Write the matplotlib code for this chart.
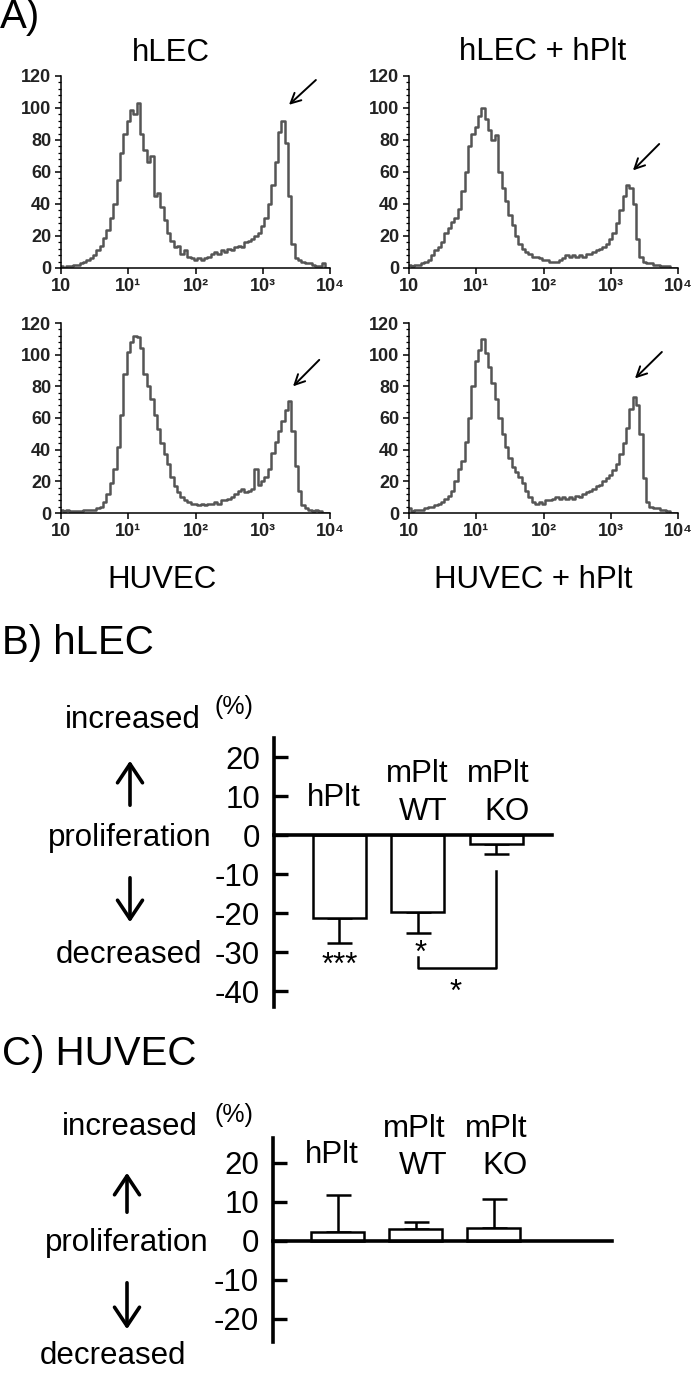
import numpy as np
import matplotlib
matplotlib.use('Agg')
import matplotlib.pyplot as plt
from matplotlib.ticker import MultipleLocator, FixedLocator, LogLocator, NullFormatter
from matplotlib.patches import FancyArrowPatch

plt.rcParams['font.family'] = ['Liberation Sans', 'DejaVu Sans']
plt.rcParams['axes.unicode_minus'] = False

W, H = 693, 1373

# --- A) histogramas: posição em décadas (10^d) e contagens ---
decades = [0.00, 0.05, 0.10, 0.15, 0.20, 0.25, 0.30, 0.35, 0.40, 0.45,
           0.50, 0.55, 0.60, 0.65, 0.70, 0.75, 0.80, 0.85, 0.90, 0.95,
           1.00, 1.05, 1.10, 1.15, 1.20, 1.25, 1.30, 1.35, 1.40, 1.45,
           1.50, 1.55, 1.60, 1.65, 1.70, 1.75, 1.80, 1.85, 1.90, 1.95,
           2.00, 2.05, 2.10, 2.15, 2.20, 2.25, 2.30, 2.35, 2.40, 2.45,
           2.50, 2.55, 2.60, 2.65, 2.70, 2.75, 2.80, 2.85, 2.90, 2.95,
           3.00, 3.05, 3.10, 3.15, 3.20, 3.25, 3.30, 3.35, 3.40, 3.45,
           3.50, 3.55, 3.60, 3.65, 3.70, 3.75, 3.80, 3.85, 3.90, 3.95, 4.00]

hlec_counts = [1, 0, 1, 1, 2, 2, 3, 4, 5, 6,
               8, 11, 14, 19, 24, 31, 40, 55, 72, 84,
               92, 99, 96, 103, 84, 74, 66, 70, 45, 47,
               38, 30, 22, 17, 13, 14, 9, 11, 7, 6,
               5, 6, 5, 6, 7, 9, 10, 9, 11, 10,
               12, 11, 13, 14, 13, 16, 17, 18, 20, 22,
               26, 31, 40, 52, 66, 85, 92, 78, 45, 15,
               6, 5, 4, 3, 3, 2, 1, 1, 3, 0, 0]

hlec_hplt_counts = [2, 1, 2, 2, 3, 4, 5, 8, 11, 13,
                    16, 22, 25, 29, 31, 37, 48, 60, 76, 84,
                    88, 95, 100, 93, 86, 80, 83, 60, 50, 42,
                    33, 27, 20, 15, 12, 10, 9, 7, 7, 6,
                    5, 5, 4, 4, 4, 5, 6, 8, 7, 8,
                    7, 8, 7, 9, 9, 10, 11, 12, 13, 15,
                    18, 22, 28, 36, 45, 52, 50, 40, 18, 7,
                    4, 3, 3, 2, 2, 1, 1, 1, 0, 0, 0]

huvec_counts = [2, 1, 2, 1, 1, 1, 1, 2, 2, 2,
                2, 3, 4, 7, 12, 19, 28, 42, 62, 88,
                102, 108, 112, 111, 104, 88, 80, 72, 62, 53,
                44, 37, 31, 23, 17, 13, 10, 8, 7, 6,
                6, 5, 6, 5, 6, 6, 7, 6, 8, 8,
                9, 10, 12, 14, 15, 13, 14, 15, 28, 18,
                20, 23, 28, 38, 45, 52, 58, 65, 71, 52,
                30, 14, 5, 3, 2, 1, 2, 1, 0, 0, 0]

huvec_hplt_counts = [3, 1, 2, 2, 2, 3, 4, 4, 5, 6,
                     7, 9, 11, 14, 20, 28, 33, 45, 60, 80,
                     96, 103, 110, 101, 92, 82, 72, 60, 50, 42,
                     35, 29, 26, 23, 19, 14, 10, 7, 6, 7,
                     6, 8, 8, 9, 10, 9, 10, 9, 10, 9,
                     11, 10, 12, 13, 14, 15, 17, 18, 20, 22,
                     24, 27, 31, 37, 44, 54, 66, 73, 68, 50,
                     22, 7, 4, 3, 3, 2, 2, 1, 0, 0, 0]

x_tick_vals = [1, 10, 100, 1000, 10000]
x_tick_labels = ['10', '10¹', '10²', '10³', '10⁴']

# --- B) / C) proliferação (%) ---
grupos = ['hPlt', 'mPlt WT', 'mPlt KO']
hlec_mean = [-21.3, -19.7, -2.3]
hlec_err = [6.4, 5.4, 2.6]
huvec_mean = [2.3, 3.1, 3.3]
huvec_err = [9.5, 1.8, 7.5]

fig = plt.figure(figsize=(W / 100, H / 100), dpi=100)


def px(x, y):
    return (x / W, 1 - y / H)


def rect(x0, y0, x1, y1):
    return [x0 / W, 1 - y1 / H, (x1 - x0) / W, (y1 - y0) / H]


def hist_panel(r, counts, seta_head, seta_tail):
    ax = fig.add_axes(r)
    ax.plot(np.power(10.0, decades), counts, drawstyle='steps-mid',
            color='#555555', lw=1.8)
    ax.set_xscale('log')
    ax.set_xlim(1, 1e4)
    ax.set_ylim(0, 120)
    for s in ['top', 'right']:
        ax.spines[s].set_visible(False)
    for s in ['left', 'bottom']:
        ax.spines[s].set_linewidth(1.1)
    ax.xaxis.set_major_locator(FixedLocator(x_tick_vals))
    ax.set_xticklabels(x_tick_labels)
    ax.xaxis.set_minor_locator(LogLocator(base=10, subs=np.arange(2, 10)))
    ax.xaxis.set_minor_formatter(NullFormatter())
    ax.yaxis.set_major_locator(MultipleLocator(20))
    ax.yaxis.set_minor_locator(MultipleLocator(4))
    ax.tick_params(which='major', length=4, width=1.1, labelsize=13,
                   labelcolor='#222222', pad=3)
    ax.tick_params(which='minor', length=2.5, width=0.9)
    for lab in ax.get_xticklabels() + ax.get_yticklabels():
        lab.set_fontweight('bold')
    ax.annotate('', xy=seta_head, xytext=seta_tail,
                arrowprops=dict(arrowstyle='->', lw=1.4, color='black',
                                mutation_scale=18, shrinkA=0, shrinkB=0),
                annotation_clip=False)
    return ax


hist_panel(rect(61, 76, 330, 268), hlec_counts,
           (10 ** 3.39, 102), (10 ** 3.79, 117.5))
hist_panel(rect(409, 76, 678, 268), hlec_hplt_counts,
           (10 ** 3.33, 61), (10 ** 3.72, 77.5))
hist_panel(rect(61, 323, 330, 513), huvec_counts,
           (10 ** 3.45, 80), (10 ** 3.84, 96.7))
hist_panel(rect(409, 323, 678, 513), huvec_hplt_counts,
           (10 ** 3.36, 85), (10 ** 3.76, 101.7))

big = 22.5
fig.text(*px(0, 17), 'A)', fontsize=29, ha='left', va='center')
fig.text(*px(171, 53), 'hLEC', fontsize=big, ha='center', va='center')
fig.text(*px(543, 52), 'hLEC + hPlt', fontsize=big, ha='center', va='center')
fig.text(*px(162, 580), 'HUVEC', fontsize=big, ha='center', va='center')
fig.text(*px(533, 580), 'HUVEC + hPlt', fontsize=big, ha='center', va='center')


def bar_panel(r, means, errs, xlim, ylim, yticks):
    ax = fig.add_axes(r)
    x = np.arange(len(means))
    lower = [e if m < 0 else 0 for m, e in zip(means, errs)]
    upper = [0 if m < 0 else e for m, e in zip(means, errs)]
    ax.errorbar(x, means, yerr=[lower, upper], fmt='none', ecolor='black',
                elinewidth=1.8, capsize=9, capthick=1.8, zorder=2)
    ax.bar(x, means, width=0.675, color='white', edgecolor='black',
           linewidth=1.8, zorder=3)
    ax.set_xlim(*xlim)
    ax.set_ylim(*ylim)
    for s in ['top', 'right']:
        ax.spines[s].set_visible(False)
    ax.spines['bottom'].set_position(('data', 0))
    ax.spines['bottom'].set_linewidth(2.6)
    ax.spines['left'].set_linewidth(2.6)
    ax.spines['bottom'].set_zorder(4)
    ax.set_xticks([])
    ax.set_yticks(yticks)
    ax.tick_params(axis='y', direction='in', length=10, width=2.4,
                   labelsize=big, pad=10)
    ax.patch.set_alpha(0)
    return ax


def lado_esquerdo(y_inc, y_pct, y_up, y_prol, y_down, y_dec, xc, x_dec):
    fig.text(*px(xc, y_inc), 'increased', fontsize=big, ha='center', va='center')
    fig.text(*px(234, y_pct), '(%)', fontsize=18, ha='center', va='center')
    fig.text(*px(xc - 3, y_prol), 'proliferation', fontsize=big,
             ha='center', va='center')
    fig.text(*px(x_dec, y_dec), 'decreased', fontsize=big,
             ha='center', va='center')
    for a, b in [(y_up[0], y_up[1]), (y_down[0], y_down[1])]:
        fig.add_artist(FancyArrowPatch(px(xc - 3, a), px(xc - 3, b),
                                       transform=fig.transFigure,
                                       arrowstyle='->,head_length=0.45,head_width=0.3',
                                       mutation_scale=30, lw=2.6, color='black'))


# B) hLEC
fig.text(*px(2, 643), 'B) hLEC', fontsize=29, ha='left', va='center')
axb = bar_panel(rect(274, 738, 552, 1007), hlec_mean, hlec_err,
                (-0.834, 2.707), (-44.1, 24.9), [20, 10, 0, -10, -20, -30, -40])
axb.text(-0.07, 9.5, 'hPlt', fontsize=big, ha='center', va='center')
axb.text(0.99, 15.6, 'mPlt', fontsize=big, ha='center', va='center')
axb.text(1.06, 5.9, 'WT', fontsize=big, ha='center', va='center')
axb.text(2.02, 15.6, 'mPlt', fontsize=big, ha='center', va='center')
axb.text(2.13, 5.9, 'KO', fontsize=big, ha='center', va='center')
axb.text(0.0, -33.5, '***', fontsize=big, ha='center', va='center')
axb.text(1.03, -30.5, '*', fontsize=big, ha='center', va='center')
axb.text(1.48, -40.5, '*', fontsize=big, ha='center', va='center')
axb.plot([1, 1, 2, 2], [-31.3, -34.1, -34.1, -9.2], color='black', lw=1.8,
         clip_on=False)
lado_esquerdo(720, 707, (808, 758), 838, (875, 925), 955, 133, 129)

# C) HUVEC
fig.text(*px(2, 1054), 'C) HUVEC', fontsize=29, ha='left', va='center')
axc = bar_panel(rect(273, 1138, 612, 1342), huvec_mean, huvec_err,
                (-0.827, 3.519), (-25.9, 26.4), [20, 10, 0, -10, -20])
axc.text(-0.07, 22.0, 'hPlt', fontsize=big, ha='center', va='center')
axc.text(0.99, 28.7, 'mPlt', fontsize=big, ha='center', va='center')
axc.text(1.10, 19.2, 'WT', fontsize=big, ha='center', va='center')
axc.text(2.04, 28.7, 'mPlt', fontsize=big, ha='center', va='center')
axc.text(2.15, 19.2, 'KO', fontsize=big, ha='center', va='center')
lado_esquerdo(1127, 1115, (1215, 1170), 1243, (1280, 1332), 1356, 130, 113)

fig.savefig('out.png', dpi=100)
